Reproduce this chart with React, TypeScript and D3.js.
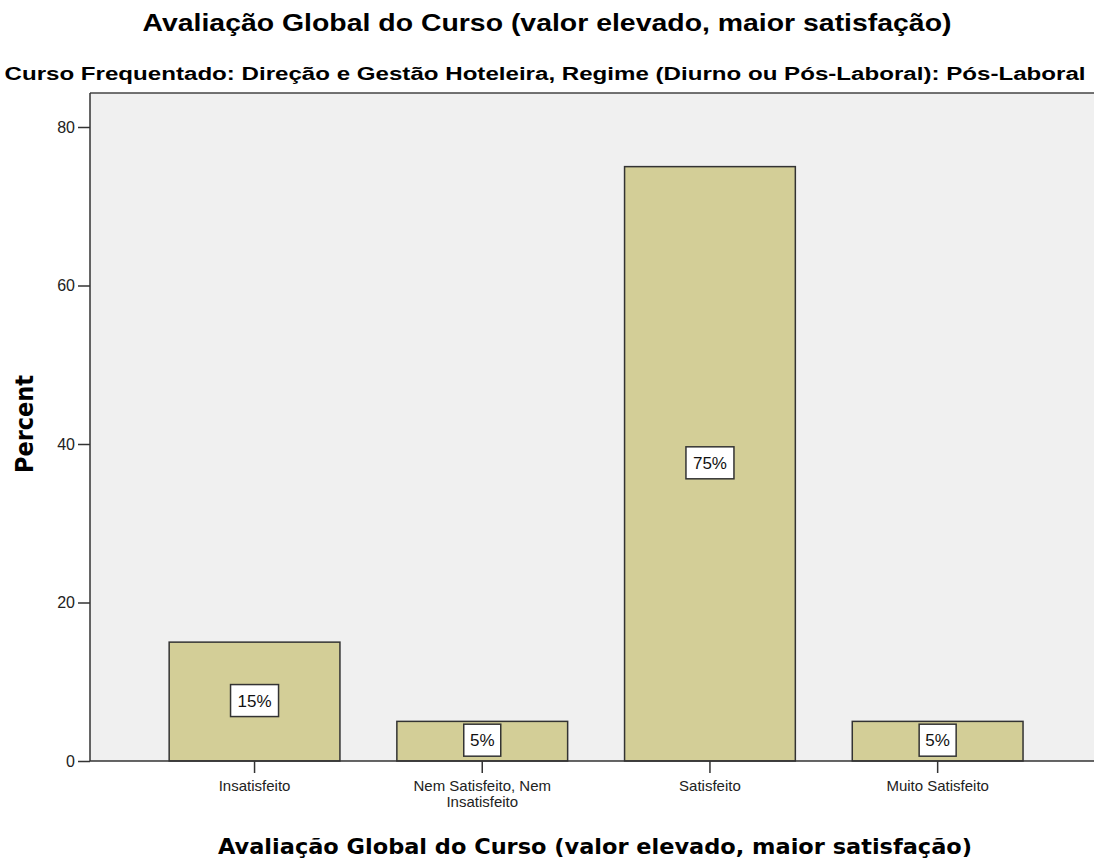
import React, { useEffect, useRef } from 'react';
import * as d3 from 'd3';

const categories = ['Insatisfeito', 'Nem Satisfeito, Nem Insatisfeito', 'Satisfeito', 'Muito Satisfeito'];
const categoryLines = [['Insatisfeito'], ['Nem Satisfeito, Nem', 'Insatisfeito'], ['Satisfeito'], ['Muito Satisfeito']];
const percents = [15, 5, 75, 5];
const yTicks = [0, 20, 40, 60, 80];

const App: React.FC = () => {
  const svgRef = useRef<SVGSVGElement>(null);

  useEffect(() => {
    if (!svgRef.current) return;
    const width = 1094;
    const height = 866;
    const font = "'Liberation Sans', Arial, sans-serif";
    const wideFont = "'DejaVu Sans', Verdana, sans-serif";
    const svg = d3.select(svgRef.current);
    svg.selectAll('*').remove();
    svg.attr('width', width).attr('height', height);

    const plotLeft = 90;
    const plotTop = 93;
    const plotBottom = 761;

    const x = d3.scaleBand<string>()
      .domain(categories)
      .range([140.7, 1051.5])
      .paddingInner(0.25)
      .paddingOuter(0.125);

    const y = d3.scaleLinear().domain([0, 80]).range([plotBottom, 127]);

    // plot background
    svg.append('rect')
      .attr('x', plotLeft)
      .attr('y', plotTop)
      .attr('width', width - plotLeft)
      .attr('height', plotBottom - plotTop)
      .attr('fill', '#f0f0f0');

    svg.append('line')
      .attr('x1', plotLeft).attr('x2', width)
      .attr('y1', plotTop).attr('y2', plotTop)
      .attr('stroke', '#444').attr('stroke-width', 1.5);

    // bars
    svg.append('g').selectAll('rect')
      .data(percents)
      .join('rect')
      .attr('x', (_, i) => x(categories[i])!)
      .attr('y', d => y(d))
      .attr('width', x.bandwidth())
      .attr('height', d => y(0) - y(d))
      .attr('fill', '#d3ce97')
      .attr('stroke', '#333')
      .attr('stroke-width', 1.5);

    // value labels
    const labels = svg.append('g').selectAll('g')
      .data(percents)
      .join('g')
      .attr('transform', (d, i) => `translate(${x(categories[i])! + x.bandwidth() / 2},${(y(d) + y(0)) / 2 - 1})`);

    labels.append('rect')
      .attr('x', d => (d >= 10 ? -24 : -18.5))
      .attr('y', -16)
      .attr('width', d => (d >= 10 ? 48 : 37))
      .attr('height', 32)
      .attr('fill', '#fff')
      .attr('stroke', '#333')
      .attr('stroke-width', 1.5);

    labels.append('text')
      .attr('text-anchor', 'middle')
      .attr('dy', '0.36em')
      .attr('font-family', font)
      .attr('font-size', 17)
      .attr('fill', '#111')
      .text(d => `${d}%`);

    // y axis
    const yAxis = svg.append('g')
      .attr('transform', `translate(${plotLeft},0)`)
      .call(d3.axisLeft(y).tickValues(yTicks).tickSize(12).tickSizeOuter(0).tickPadding(3));
    yAxis.select('.domain').remove();
    yAxis.selectAll('.tick line').attr('stroke', '#333').attr('stroke-width', 1.5);
    yAxis.selectAll('.tick text')
      .attr('font-family', font)
      .attr('font-size', 16)
      .attr('fill', '#222');
    svg.append('line')
      .attr('x1', plotLeft).attr('x2', plotLeft)
      .attr('y1', plotTop).attr('y2', plotBottom)
      .attr('stroke', '#333').attr('stroke-width', 1.5);

    // x axis
    svg.append('line')
      .attr('x1', plotLeft).attr('x2', width)
      .attr('y1', plotBottom).attr('y2', plotBottom)
      .attr('stroke', '#333').attr('stroke-width', 1.5);

    const xt = svg.append('g').selectAll('g')
      .data(categories)
      .join('g')
      .attr('transform', d => `translate(${x(d)! + x.bandwidth() / 2},${plotBottom})`);
    xt.append('line')
      .attr('y1', 0).attr('y2', 12)
      .attr('stroke', '#333').attr('stroke-width', 1.5);
    xt.append('text')
      .attr('text-anchor', 'middle')
      .attr('font-family', font)
      .attr('font-size', 15)
      .attr('fill', '#222')
      .selectAll('tspan')
      .data((_, i) => categoryLines[i])
      .join('tspan')
      .attr('x', 0)
      .attr('y', (_, j) => 30 + j * 16)
      .text(t => t);

    // titles
    svg.append('text')
      .attr('x', 547).attr('y', 31)
      .attr('text-anchor', 'middle')
      .attr('font-family', font)
      .attr('font-size', 24)
      .attr('font-weight', 'bold')
      .attr('textLength', 809)
      .attr('lengthAdjust', 'spacingAndGlyphs')
      .attr('fill', '#000')
      .text('Avaliação Global do Curso (valor elevado, maior satisfação)');

    svg.append('text')
      .attr('x', 545).attr('y', 80)
      .attr('text-anchor', 'middle')
      .attr('font-family', font)
      .attr('font-size', 18)
      .attr('font-weight', 'bold')
      .attr('textLength', 1081)
      .attr('lengthAdjust', 'spacingAndGlyphs')
      .attr('fill', '#000')
      .text('Curso Frequentado: Direção e Gestão Hoteleira, Regime (Diurno ou Pós-Laboral): Pós-Laboral');

    svg.append('text')
      .attr('x', 595).attr('y', 854)
      .attr('text-anchor', 'middle')
      .attr('font-family', wideFont)
      .attr('font-size', 22)
      .attr('font-weight', 'bold')
      .attr('textLength', 754)
      .attr('lengthAdjust', 'spacingAndGlyphs')
      .attr('fill', '#000')
      .text('Avaliação Global do Curso (valor elevado, maior satisfação)');

    svg.append('text')
      .attr('transform', `translate(33,424) rotate(-90)`)
      .attr('text-anchor', 'middle')
      .attr('font-family', wideFont)
      .attr('font-size', 24)
      .attr('font-weight', 'bold')
      .attr('textLength', 98)
      .attr('lengthAdjust', 'spacingAndGlyphs')
      .attr('fill', '#000')
      .text('Percent');
  }, []);

  return (
    <div style={{ position: 'absolute', left: 0, top: 0, background: '#fff' }}>
      <svg ref={svgRef} style={{ display: 'block' }}></svg>
    </div>
  );
};

export default App;
